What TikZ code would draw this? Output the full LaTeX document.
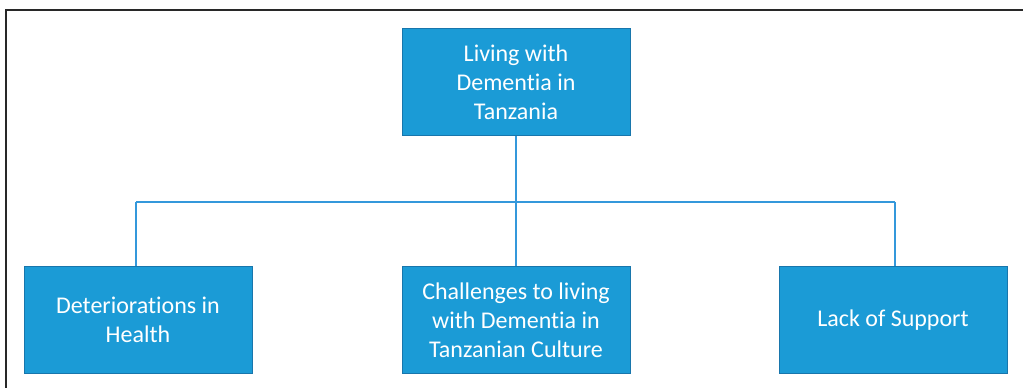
\documentclass[tikz,border=0pt]{standalone}
\usepackage{fontspec}
\setmainfont[Ligatures={NoCommon,NoRequired,NoContextual}]{Carlito}
\begin{document}
\begin{tikzpicture}[x=1pt,y=-1pt,
  box/.style={draw={rgb,255:red,24;green,118;blue,172}, line width=1pt,
    fill={rgb,255:red,27;green,155;blue,214}, text=white,
    minimum width=228pt, minimum height=107pt, inner sep=0pt,
    align=center, font=\fontsize{24}{29}\selectfont},
  conn/.style={draw={rgb,255:red,52;green,152;blue,219}, line width=2.6pt}]
\useasboundingbox (0,0) rectangle (1023,388);
\draw[line width=2pt, draw={rgb,255:red,40;green,40;blue,40}] (6,388) -- (6,10) -- (1023,10);
\node[box] (top) at (516,82) {Living with\\Dementia in\\Tanzania};
\node[box] (left) at (138,320) {Deteriorations in\\Health};
\node[box] (mid) at (516,320) {Challenges to living\\with Dementia in\\Tanzanian Culture};
\node[box] (right) at (893,320) {Lack of Support};
\coordinate (j) at (516,202);
\coordinate (jl) at (136,202);
\coordinate (jr) at (895,202);
\draw[conn] (top.south) -- (j);
\draw[conn] (jl) -- (jr);
\draw[conn] (j) -- (mid.north);
\draw[conn] (jl) -- (jl |- left.north);
\draw[conn] (jr) -- (jr |- right.north);
\end{tikzpicture}
\end{document}
